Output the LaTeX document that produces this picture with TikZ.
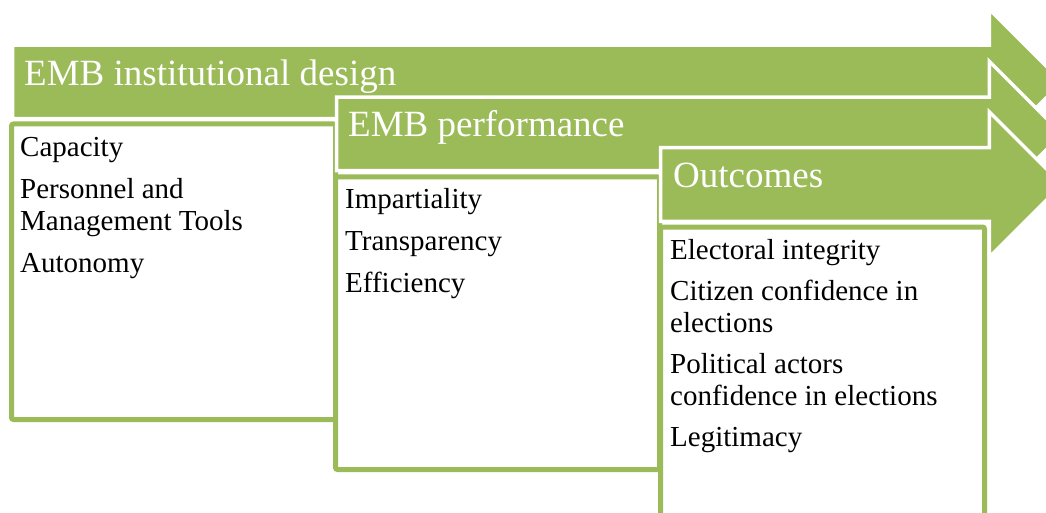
\documentclass[tikz,border=0pt]{standalone}
\usepackage{fontspec}
\setmainfont{Liberation Serif}
\definecolor{emb}{RGB}{155,187,89}
\begin{document}
\begin{tikzpicture}[x=1pt,y=-1pt,
  arrowshape/.style={fill=emb,draw=white,line width=3.5pt,line join=miter},
  listbox/.style={fill=white,draw=emb,line width=5pt,rounded corners=2pt},
  headtext/.style={anchor=base west,inner sep=0pt,text=white,font=\fontsize{37}{40}\selectfont},
  itemtext/.style={anchor=base west,inner sep=0pt,text=black,font=\fontsize{29}{32}\selectfont}]
\useasboundingbox (0,0) rectangle (1046,513);
\clip (0,0) rectangle (1046,513);
% stage 1
\path[arrowshape] (12.5,45.25) -- (989.25,45.25) -- (989.25,9.25) -- (1062,82) -- (989.25,154.75) -- (989.25,118.75) -- (12.5,118.75) -- cycle;
\path[listbox] (11.5,124) rectangle (335.5,419.5);
% stage 2
\path[arrowshape] (336.7,97.25) -- (989.25,97.25) -- (989.25,61.25) -- (1062,134) -- (989.25,206.75) -- (989.25,170.75) -- (336.7,170.75) -- cycle;
\path[listbox] (335.5,177) rectangle (659.5,469.5);
% stage 3
\path[arrowshape] (660.5,147.75) -- (989.25,147.75) -- (989.25,111.75) -- (1062,184.5) -- (989.25,257.25) -- (989.25,221.25) -- (660.5,221.25) -- cycle;
\path[listbox] (660.5,227) rectangle (984.5,525);
% headers
\node[headtext] (h1) at (24,86) {EMB institutional design};
\node[headtext] (h2) at (348,137) {EMB performance};
\node[headtext] (h3) at (673,188) {Outcomes};
% box 1
\node[itemtext] (a1) at (20,157) {Capacity};
\node[itemtext] (a2) at (20,198) {Personnel and};
\node[itemtext] (a3) at (20,230) {Management Tools};
\node[itemtext] (a4) at (20,272) {Autonomy};
% box 2
\node[itemtext] (b1) at (345,208) {Impartiality};
\node[itemtext] (b2) at (345,250) {Transparency};
\node[itemtext] (b3) at (345,292) {Efficiency};
% box 3
\node[itemtext] (c1) at (670,259) {Electoral integrity};
\node[itemtext] (c2) at (670,300) {Citizen confidence in};
\node[itemtext] (c3) at (670,332) {elections};
\node[itemtext] (c4) at (670,373) {Political actors};
\node[itemtext] (c5) at (670,405) {confidence in elections};
\node[itemtext] (c6) at (670,446) {Legitimacy};
\end{tikzpicture}
\end{document}
